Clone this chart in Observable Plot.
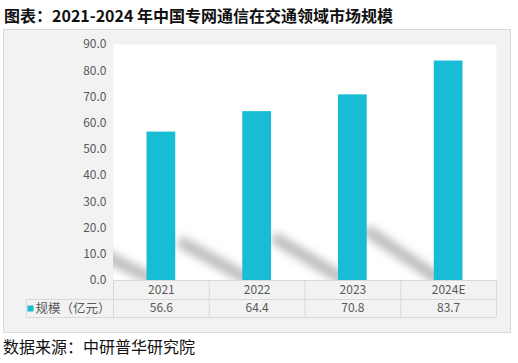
<!DOCTYPE html>
<html>
<head>
<meta charset="utf-8">
<script src="https://cdn.jsdelivr.net/npm/d3@7"></script>
<script src="https://cdn.jsdelivr.net/npm/@observablehq/plot@0.6"></script>
<style>
  html, body { margin: 0; padding: 0; background: #ffffff; }
  body { width: 518px; height: 363px; position: relative; overflow: hidden; font-family: "Noto Sans CJK SC", sans-serif; }
  #title { position: absolute; left: 4px; top: 3px; font-size: 16px; font-weight: bold; color: #111; white-space: nowrap; }
  #chart { position: absolute; left: 3px; top: 29px; }
  #chart svg { display: block; background: #f2f2f2; border: 1px solid #d9d9d9; }
  #caption { position: absolute; left: 3px; top: 334px; font-size: 16px; color: #111; white-space: nowrap; }
</style>
</head>
<body>
<div id="title">图表：2021-2024 年中国专网通信在交通领域市场规模</div>
<div id="chart"></div>
<div id="caption">数据来源：中研普华研究院</div>
<script>
const categories = ["2021", "2022", "2023", "2024E"];
const values = [56.6, 64.4, 70.8, 83.7];
const valueLabels = ["56.6", "64.4", "70.8", "83.7"];
const seriesName = "规模（亿元）";
const yTicks = [0, 10, 20, 30, 40, 50, 60, 70, 80, 90];

const barColor = "#19bcd5";
const gridColor = "#d9d9d9";
const textColor = "#595959";

const W = 506, H = 302;
const mTop = 14, mBottom = 52, mLeft = 109, mRight = 14;
const pxPerUnit = (H - mTop - mBottom) / 90;
const pxPerCat = (W - mLeft - mRight) / categories.length;
const u = px => px / pxPerUnit;   // pixels -> y units
const ux = px => px / pxPerCat;   // pixels -> x units
const row1 = 19, row2 = 37;       // table row boundaries below baseline (px)

const data = categories.map((c, i) => ({cat: c, i, value: values[i], label: valueLabels[i]}));
const barHalf = 0.15;

const svg = Plot.plot({
  width: W,
  height: H,
  marginTop: mTop,
  marginBottom: mBottom,
  marginLeft: mLeft,
  marginRight: mRight,
  style: {background: "#f2f2f2", fontFamily: "'Noto Sans CJK SC', sans-serif", fontSize: "12px", color: textColor, overflow: "visible"},
  x: {domain: [0, categories.length], axis: null},
  y: {domain: [0, 90], ticks: yTicks, tickFormat: d3.format(".1f"), tickSize: 0, tickPadding: 7, label: null},
  marks: [
    Plot.frame({fill: "white", stroke: "none"}),
    // shadows
    Plot.link(data, {
      x1: d => d.i + 0.5 - barHalf + ux(2),
      y1: u(3),
      x2: d => d.i + 0.5 - barHalf - (0.45 + 0.0027 * d.value),
      y2: d => 0.22 * d.value,
      stroke: "#a0a0a0",
      strokeWidth: 12,
      strokeOpacity: 0.7,
      strokeLinecap: "round",
      clip: true
    }),
    Plot.rectY(data, {x1: d => d.i + 0.5 - barHalf, x2: d => d.i + 0.5 + barHalf, y1: 0, y2: "value", fill: barColor}),
    // table horizontal lines
    Plot.ruleY([0], {x1: 0, x2: categories.length, stroke: gridColor}),
    Plot.ruleY([-u(row1)], {x1: -ux(87), x2: categories.length, stroke: gridColor}),
    Plot.ruleY([-u(row2)], {x1: -ux(87), x2: categories.length, stroke: gridColor}),
    // table vertical lines
    Plot.ruleX(d3.range(categories.length + 1), {y1: 0, y2: -u(row2), stroke: gridColor}),
    Plot.ruleX([-ux(87)], {y1: -u(row1), y2: -u(row2), stroke: gridColor}),
    // table texts
    Plot.text(data, {x: d => d.i + 0.5, y: -u(row1 / 2), text: "cat", fill: textColor, fontSize: 12}),
    Plot.text(data, {x: d => d.i + 0.5, y: -u((row1 + row2) / 2), text: "label", fill: textColor, fontSize: 12}),
    Plot.dot([seriesName], {x: -ux(83), y: -u((row1 + row2) / 2), symbol: "square", r: 3.4, fill: barColor, stroke: "none"}),
    Plot.text([seriesName], {x: -ux(78), y: -u((row1 + row2) / 2), text: d => d, textAnchor: "start", fill: textColor, fontSize: 12.5})
  ]
});

// blur filter for the shadows
const s = d3.select(svg);
const defs = s.insert("defs", ":first-child");
defs.append("filter").attr("id", "shadowBlur").attr("x", "-50%").attr("y", "-50%").attr("width", "200%").attr("height", "200%")
  .append("feGaussianBlur").attr("stdDeviation", 4);
s.select('g[aria-label="link"]').attr("filter", "url(#shadowBlur)");
s.selectAll('g[aria-label="y-axis tick label"] text, g[aria-label="y-axis tick label"]').attr("fill", textColor);

document.getElementById("chart").appendChild(svg);
</script>
</body>
</html>
